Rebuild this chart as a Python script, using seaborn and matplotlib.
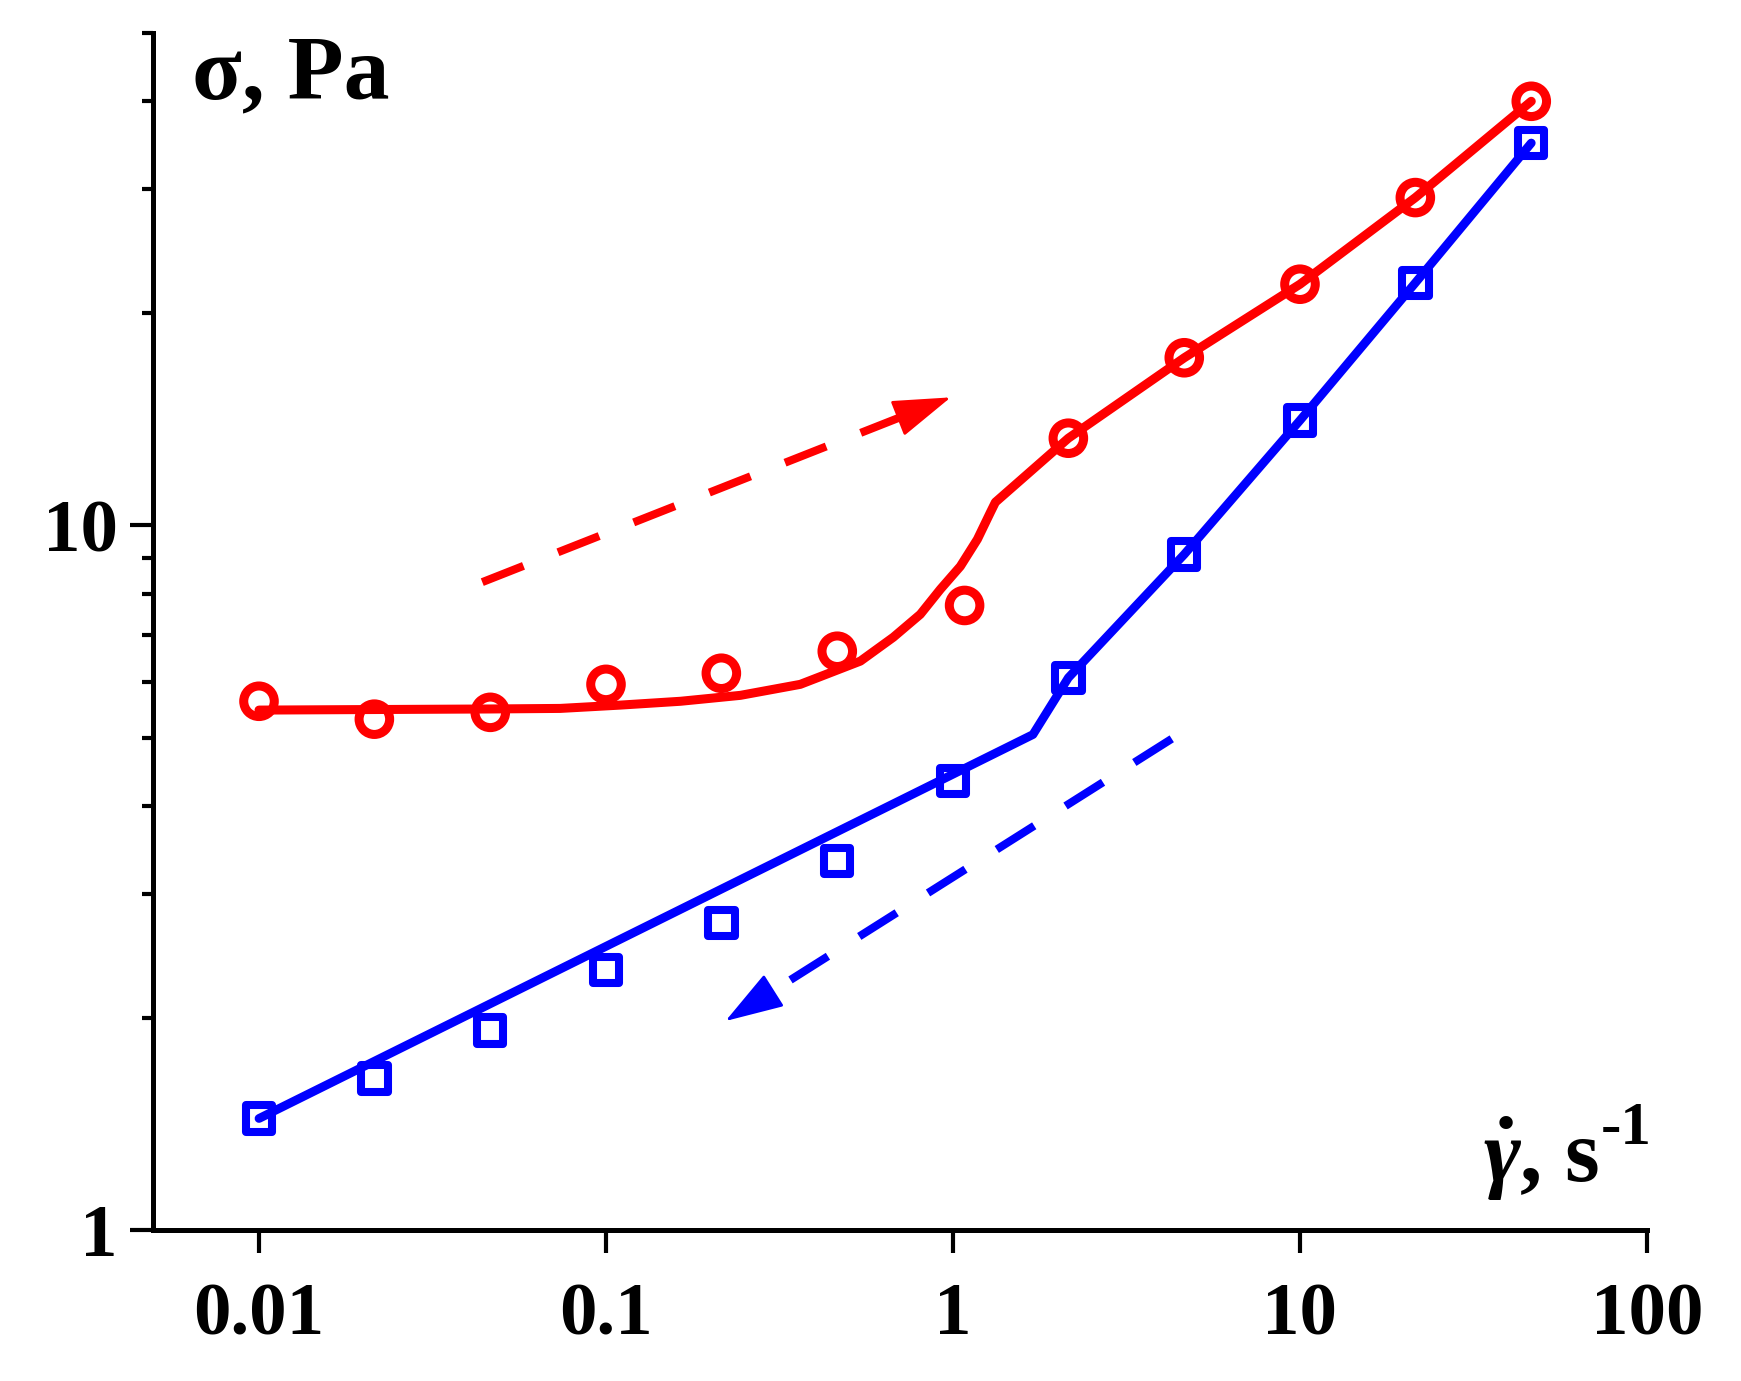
import numpy as np
import pandas as pd
import matplotlib
matplotlib.use("Agg")
import matplotlib.pyplot as plt
import matplotlib.ticker as mticker
import seaborn as sns

# measured points (shear rate, s^-1 / stress, Pa)
up_rate = [0.01, 0.0215, 0.0464, 0.1, 0.215, 0.464, 1.08, 2.15, 4.64, 10, 21.5, 46.4]
up_stress = [5.63, 5.31, 5.43, 5.95, 6.17, 6.63, 7.70, 13.3, 17.3, 22.0, 29.2, 40.0]

down_rate = [0.01, 0.0215, 0.0464, 0.1, 0.215, 0.464, 1.0, 2.15, 4.64, 10, 21.5, 46.4]
down_stress = [1.44, 1.64, 1.92, 2.34, 2.73, 3.34, 4.34, 6.08, 9.10, 14.1, 22.1, 34.9]

# fitted curves
up_fit_rate = [0.01, 0.0215, 0.0464, 0.0738, 0.110, 0.164, 0.244, 0.363, 0.541, 0.673,
               0.805, 0.920, 1.050, 1.176, 1.282, 1.325, 2.15, 4.64, 10, 21.5, 46.4]
up_fit_stress = [5.47, 5.48, 5.49, 5.50, 5.56, 5.63, 5.74, 5.95, 6.42, 6.94,
                 7.48, 8.12, 8.75, 9.56, 10.44, 10.79, 13.3, 17.3, 22.0, 29.2, 40.0]

down_fit_rate = [0.01, 1.70, 2.15, 4.64, 10, 21.5, 46.4]
down_fit_stress = [1.44, 5.05, 6.08, 9.10, 14.1, 22.1, 34.9]

# direction arrows (start, tip)
up_arrow = [(0.0440, 8.31), (0.985, 15.2)]
down_arrow = [(4.27, 4.98), (0.221, 1.98)]

x_ticks = [0.01, 0.1, 1, 10, 100]
x_tick_labels = ["0.01", "0.1", "1", "10", "100"]
y_ticks = [1, 10]
y_tick_labels = ["1", "10"]

RED = "#ff0000"
BLUE = "#0000ff"

sns.set_theme(style="ticks")
plt.rcParams["font.family"] = ["Liberation Serif", "DejaVu Serif"]
plt.rcParams["font.weight"] = "bold"
plt.rcParams["text.color"] = "black"
plt.rcParams["mathtext.fontset"] = "custom"
plt.rcParams["mathtext.rm"] = "Liberation Serif:bold"
plt.rcParams["mathtext.it"] = "Liberation Serif:italic:bold"
plt.rcParams["mathtext.bf"] = "Liberation Serif:bold"

fig = plt.figure(figsize=(17.41, 13.81), dpi=100)
ax = fig.add_axes([0.0879, 0.1093, 0.8581, 0.8668])

ax.set_xscale("log")
ax.set_yscale("log")

up_fit = pd.DataFrame({"rate": up_fit_rate, "stress": up_fit_stress})
down_fit = pd.DataFrame({"rate": down_fit_rate, "stress": down_fit_stress})
sns.lineplot(data=up_fit, x="rate", y="stress", ax=ax, color=RED, lw=6.5, zorder=3)
sns.lineplot(data=down_fit, x="rate", y="stress", ax=ax, color=BLUE, lw=6.3, zorder=3)

sns.scatterplot(x=up_rate, y=up_stress, ax=ax, marker="o", s=22 ** 2,
                color=RED, facecolor="none", edgecolor=RED, linewidth=6.5, zorder=2)
sns.scatterplot(x=down_rate, y=down_stress, ax=ax, marker="s", s=19 ** 2,
                color=BLUE, facecolor="none", edgecolor=BLUE, linewidth=5.8, zorder=2)


def dashed_arrow(start, tip, color):
    ls, ts = np.log10(start), np.log10(tip)
    base = 10 ** (ts - 0.1 * (ts - ls))
    ax.plot([start[0], base[0]], [start[1], base[1]], color=color, lw=5.8,
            dashes=(5.5, 4.6), solid_capstyle="butt", zorder=4)
    ax.annotate("", xy=tip, xytext=tuple(base),
                arrowprops=dict(arrowstyle="-|>,head_length=1.85,head_width=0.6",
                                mutation_scale=20, color=color, lw=2,
                                shrinkA=0, shrinkB=0), zorder=4)


dashed_arrow(*up_arrow, RED)
dashed_arrow(*down_arrow, BLUE)

ax.set_xlim(0.00495, 100)
ax.set_ylim(1, 50)

ax.xaxis.set_major_locator(mticker.FixedLocator(x_ticks))
ax.xaxis.set_major_formatter(mticker.FixedFormatter(x_tick_labels))
ax.xaxis.set_minor_locator(mticker.NullLocator())
ax.yaxis.set_major_locator(mticker.FixedLocator(y_ticks))
ax.yaxis.set_major_formatter(mticker.FixedFormatter(y_tick_labels))
ax.yaxis.set_minor_locator(mticker.LogLocator(base=10, subs=np.arange(2, 10)))
ax.yaxis.set_minor_formatter(mticker.NullFormatter())

sns.despine(ax=ax)
for side in ["left", "bottom"]:
    ax.spines[side].set_linewidth(3.6)
    ax.spines[side].set_color("black")

ax.tick_params(axis="both", which="major", length=16.5, width=3, color="black",
               labelcolor="black", labelsize=54, pad=9)
ax.tick_params(axis="x", which="major", pad=21)
ax.tick_params(axis="y", which="minor", length=8, width=3, color="black")
for lab in ax.get_xticklabels() + ax.get_yticklabels():
    lab.set_fontweight("bold")

ax.set_xlabel("")
ax.set_ylabel("")

# axis titles placed inside the frame, as in the original
fig.text(192 / 1741, 1 - 98 / 1381, "σ, Pa", fontsize=66, fontweight="bold",
         ha="left", va="baseline", color="black")
fig.text(1599 / 1741, 1 - 1182 / 1381, r"$\dot{\gamma}$, s", fontsize=64,
         fontweight="bold", ha="right", va="baseline", color="black")
fig.text(1601 / 1741, 1 - 1144 / 1381, "-1", fontsize=44,
         fontweight="bold", ha="left", va="baseline", color="black")

fig.savefig("out.png", dpi=100)
